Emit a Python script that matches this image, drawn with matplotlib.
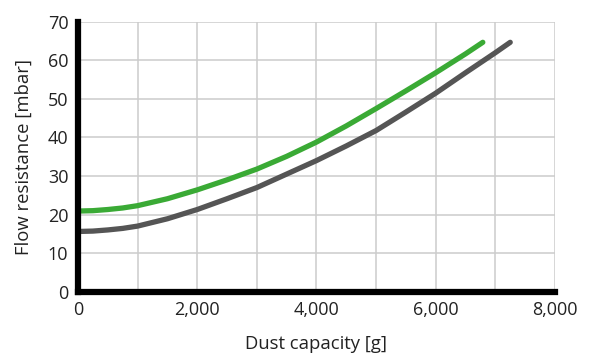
import matplotlib.pyplot as plt

# Dust capacity [g] vs flow resistance [mbar]
green_x = [0, 250, 500, 750, 1000, 1500, 2000, 2500, 3000, 3500, 4000, 4500, 5000, 5500, 6000, 6500, 6790]
green_y = [20.9, 21.0, 21.3, 21.7, 22.3, 24.1, 26.4, 29.0, 31.8, 35.1, 38.8, 43.0, 47.5, 52.1, 56.8, 61.7, 64.7]

grey_x = [0, 250, 500, 750, 1000, 1500, 2000, 2500, 3000, 3500, 4000, 4500, 5000, 5500, 6000, 6500, 7000, 7250]
grey_y = [15.6, 15.7, 16.0, 16.4, 17.0, 18.9, 21.3, 24.1, 27.0, 30.5, 34.0, 37.8, 41.8, 46.6, 51.5, 56.8, 62.0, 64.7]

x_ticks = [0, 2000, 4000, 6000, 8000]
x_ticklabels = ['0', '2,000', '4,000', '6,000', '8,000']
y_ticks = [0, 10, 20, 30, 40, 50, 60, 70]

plt.rcParams['font.family'] = ['Open Sans', 'DejaVu Sans']

fig = plt.figure(figsize=(5.91, 3.53), dpi=100)
ax = fig.add_axes([0.132, 0.174, 0.807, 0.764])

ax.plot(grey_x, grey_y, color='#555555', lw=3.8, solid_capstyle='round', zorder=3, clip_on=False)
ax.plot(green_x, green_y, color='#3aaa35', lw=3.8, solid_capstyle='round', zorder=3, clip_on=False)

ax.set_xlim(0, 8000)
ax.set_ylim(0, 70)
ax.set_xticks(x_ticks)
ax.set_xticklabels(x_ticklabels)
ax.set_yticks(y_ticks)

# grid every 1000 g
for gx in range(1000, 8001, 1000):
    ax.axvline(gx, color='#cccccc', lw=1.1, zorder=1)
for gy in y_ticks[1:]:
    ax.axhline(gy, color='#cccccc', lw=1.1, zorder=1)

for s in ['top', 'right']:
    ax.spines[s].set_visible(False)
for s in ['left', 'bottom']:
    ax.spines[s].set_linewidth(4.5)
    ax.spines[s].set_color('black')
    ax.spines[s].set_zorder(4)
    ax.spines[s].set_capstyle('projecting')

ax.tick_params(length=0, labelsize=13, colors='#222222', pad=7)
ax.set_xlabel('Dust capacity [g]', fontsize=13.3, color='#222222', labelpad=11)
ax.set_ylabel('Flow resistance [mbar]', fontsize=13.3, color='#222222', labelpad=11)

plt.savefig('out.png')
